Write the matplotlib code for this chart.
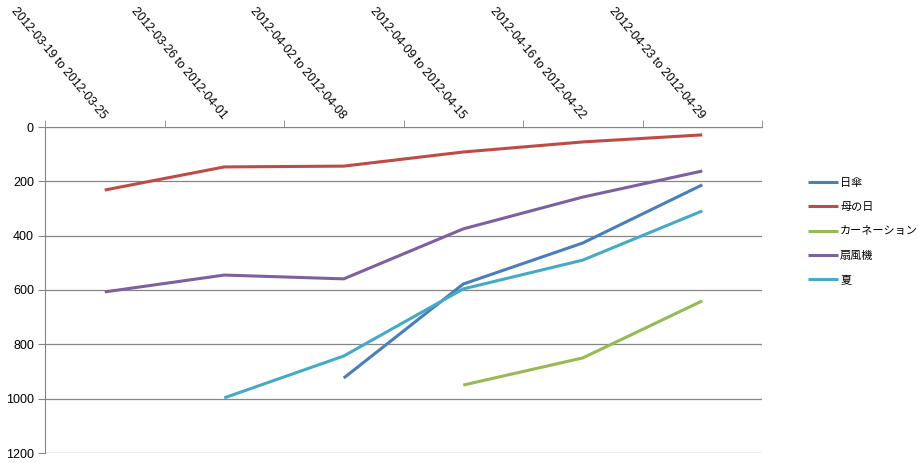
import matplotlib.pyplot as plt
import numpy as np

plt.rcParams['font.family'] = ['Liberation Sans', 'Noto Sans CJK JP']

weeks = ['2012-03-19 to 2012-03-25', '2012-03-26 to 2012-04-01',
         '2012-04-02 to 2012-04-08', '2012-04-09 to 2012-04-15',
         '2012-04-16 to 2012-04-22', '2012-04-23 to 2012-04-29']

# np.nan = no value that week
higasa = [np.nan, np.nan, 924, 578, 427, 213]        # 日傘
hahanohi = [232, 147, 144, 92, 55, 29]               # 母の日
carnation = [np.nan, np.nan, np.nan, 950, 850, 640]  # カーネーション
senpuki = [607, 545, 559, 375, 258, 162]             # 扇風機
natsu = [np.nan, 997, 843, 596, 490, 309]            # 夏

series = [('日傘', higasa, '#4A7EBB'),
          ('母の日', hahanohi, '#BE4B48'),
          ('カーネーション', carnation, '#98B954'),
          ('扇風機', senpuki, '#7D60A0'),
          ('夏', natsu, '#46AAC5')]

fig = plt.figure(figsize=(9.18, 4.63), dpi=100)
ax = fig.add_axes([45/918, 1-453/463, (762-45)/918, (453-127)/463])

x = np.arange(len(weeks))
for name, vals, col in series:
    ax.plot(x, vals, color=col, linewidth=2.2, label=name, solid_capstyle='butt')

ax.set_xlim(-0.5, len(weeks) - 0.5)
ax.set_ylim(1200, 0)
ax.set_yticks(np.arange(0, 1201, 200))
ax.yaxis.grid(True, color='#868686', linewidth=0.9)
ax.set_axisbelow(True)

# category labels on top, tick marks between categories
ax.xaxis.tick_top()
ax.set_xticks(x)
ax.set_xticklabels(weeks, rotation=-50, ha='right', va='center',
                   rotation_mode='anchor', fontsize=8.8)
ax.set_xticks(np.arange(-0.5, len(weeks)), minor=True)
ax.tick_params(axis='x', which='major', length=0, pad=7)
ax.tick_params(axis='x', which='minor', length=5, color='#868686', top=True, bottom=False)
ax.tick_params(axis='y', length=5, color='#868686', labelsize=9, pad=3)

for s in ['right', 'bottom']:
    ax.spines[s].set_visible(False)
ax.spines['top'].set_color('#868686')
ax.spines['left'].set_color('#868686')

leg = fig.legend(loc='upper left', bbox_to_anchor=(798/918, 1-168/463),
                 frameon=False, handlelength=2.7, handletextpad=0.2,
                 labelspacing=1.28, prop={'family': 'Noto Sans CJK JP', 'size': 8})

fig.savefig('out.png', dpi=100)
